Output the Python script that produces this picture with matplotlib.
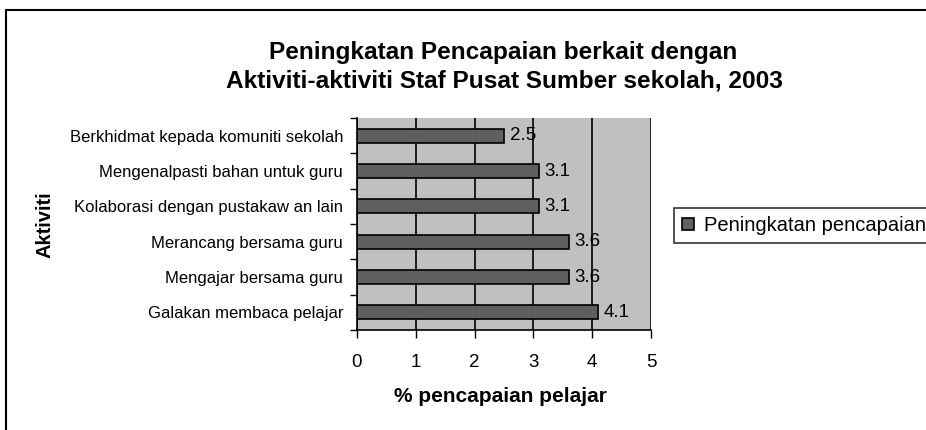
import matplotlib
matplotlib.use("Agg")
import matplotlib.pyplot as plt
from matplotlib.patches import Rectangle

plt.rcParams['font.family'] = ['Liberation Sans', 'DejaVu Sans']

categories = ["Berkhidmat kepada komuniti sekolah",
              "Mengenalpasti bahan untuk guru",
              "Kolaborasi dengan pustakaw an lain",
              "Merancang bersama guru",
              "Mengajar bersama guru",
              "Galakan membaca pelajar"]
values = [2.5, 3.1, 3.1, 3.6, 3.6, 4.1]
series_name = "Peningkatan pencapaian"
title_lines = ["Peningkatan Pencapaian berkait dengan",
               "Aktiviti-aktiviti Staf Pusat Sumber sekolah, 2003"]
xlabel = "% pencapaian pelajar"
ylabel = "Aktiviti"
xticks = [0, 1, 2, 3, 4, 5]

W, H = 926, 430
fig = plt.figure(figsize=(W/100, H/100), dpi=100)
fig.patch.set_facecolor('white')

# outer border (bottom and right fall outside the picture)
fig.add_artist(Rectangle((6/W, -10/H), 940/W, 430/H, transform=fig.transFigure,
                         fill=False, edgecolor='black', linewidth=1.5))

ax = fig.add_axes([357/W, 1-330/H, (651-357)/W, (330-118)/H])
ax.set_facecolor('#C0C0C0')
n = len(categories)
ypos = list(range(n-1, -1, -1))
ax.barh(ypos, values, height=0.4, color='#5F5F5F', edgecolor='black', linewidth=1.2,
        label=series_name, zorder=3)
for y, v in zip(ypos, values):
    ax.annotate(f"{v}", (v, y), xytext=(4, 0), textcoords='offset points',
                va='center', ha='left', fontsize=13.5, zorder=4)

ax.set_xlim(0, 5)
ax.set_ylim(-0.5, n-0.5)
ax.set_xticks(xticks)
ax.set_xticklabels([str(t) for t in xticks], fontsize=13.5)
ax.xaxis.grid(True, color='black', linewidth=1.2, zorder=1)
ax.set_axisbelow(True)
ax.set_yticks(ypos)
ax.set_yticklabels(categories, fontsize=12)
ax.tick_params(axis='y', length=0, pad=10)
ax.set_yticks([i - 0.5 for i in range(n+1)], minor=True)
ax.tick_params(axis='y', which='minor', length=5, width=1, direction='out')
ax.tick_params(axis='x', length=6, width=1, direction='out', pad=11)
for s in ['top', 'right']:
    ax.spines[s].set_visible(False)
ax.spines['left'].set_linewidth(1.2)
ax.spines['bottom'].set_linewidth(1.2)

fig.text(500/W, 1-397/H, xlabel, fontsize=15, fontweight='bold', ha='center', va='center')
fig.text(45/W, 1-225/H, ylabel, rotation=90, fontsize=14.5, fontweight='bold',
         ha='center', va='center')
fig.text(503/W, 1-52/H, title_lines[0], fontsize=17.6, fontweight='bold', ha='center', va='center')
fig.text(504/W, 1-81/H, title_lines[1], fontsize=17.6, fontweight='bold', ha='center', va='center')

leg = fig.legend(loc='upper left', bbox_to_anchor=(674/W, 1-208/H), fontsize=14.5,
                 frameon=True, fancybox=False, edgecolor='black', handlelength=0.6,
                 handleheight=0.6, handletextpad=0.5, borderpad=0.4, borderaxespad=0)
leg.get_frame().set_linewidth(1.2)

fig.savefig("out.png", dpi=100)
